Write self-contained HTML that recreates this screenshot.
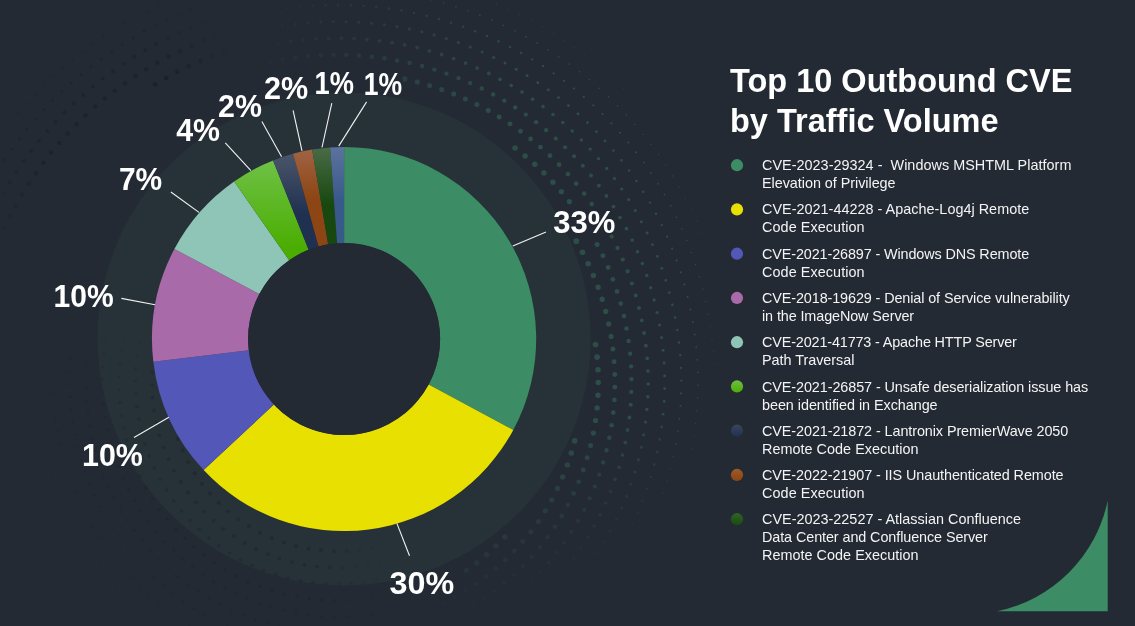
<!DOCTYPE html>
<html lang="en">
<head>
<meta charset="utf-8">
<title>Top 10 Outbound CVE by Traffic Volume</title>
<style>
html,body{margin:0;padding:0;}
body{width:1135px;height:626px;background:#242a33;overflow:hidden;position:relative;
font-family:"Liberation Sans",Arial,Helvetica,sans-serif;color:#fff;}
svg{position:absolute;left:0;top:0;display:block;}
svg,h1,.li{will-change:transform;}
.lbl text{font-family:"Liberation Sans",Arial,Helvetica,sans-serif;font-weight:700;font-size:31.4px;fill:#fff;}
.ld line{stroke:#f2f2f2;stroke-width:1.1;}
h1{position:absolute;left:730px;top:61.5px;margin:0;font-size:32.5px;line-height:39.7px;font-weight:700;
letter-spacing:0.0px;white-space:nowrap;color:#fff;}
.li{position:absolute;left:762.4px;font-size:14.4px;line-height:17.8px;letter-spacing:0.08px;white-space:nowrap;color:#f4f4f4;}
.ln{display:block;}
</style>
</head>
<body>
<svg width="1135" height="626" viewBox="0 0 1135 626">
<defs>
<linearGradient id="gLg" gradientUnits="userSpaceOnUse" x1="0" y1="160" x2="0" y2="250"><stop offset="0" stop-color="#6fc146"/><stop offset="1" stop-color="#4aad00"/></linearGradient>
<linearGradient id="gNv" gradientUnits="userSpaceOnUse" x1="0" y1="152" x2="0" y2="215"><stop offset="0" stop-color="#4b566a"/><stop offset="1" stop-color="#1f3050"/></linearGradient>
<linearGradient id="gBr" gradientUnits="userSpaceOnUse" x1="0" y1="148" x2="0" y2="200"><stop offset="0" stop-color="#a06445"/><stop offset="1" stop-color="#8c4513"/></linearGradient>
<linearGradient id="gDg" gradientUnits="userSpaceOnUse" x1="0" y1="147" x2="0" y2="205"><stop offset="0" stop-color="#4a6b46"/><stop offset="1" stop-color="#17480f"/></linearGradient>
<linearGradient id="gSb" gradientUnits="userSpaceOnUse" x1="0" y1="147" x2="0" y2="200"><stop offset="0" stop-color="#5b739c"/><stop offset="1" stop-color="#3a598b"/></linearGradient>
<linearGradient id="ld5" x1="0" y1="0" x2="0" y2="1"><stop offset="0" stop-color="#6dc043"/><stop offset="1" stop-color="#4cae04"/></linearGradient>
<linearGradient id="ld6" x1="0" y1="0" x2="0" y2="1"><stop offset="0" stop-color="#3a4660"/><stop offset="1" stop-color="#1f3050"/></linearGradient>
<linearGradient id="ld7" x1="0" y1="0" x2="0" y2="1"><stop offset="0" stop-color="#a05a2a"/><stop offset="1" stop-color="#8b4513"/></linearGradient>
<linearGradient id="ld8" x1="0" y1="0" x2="0" y2="1"><stop offset="0" stop-color="#2f6428"/><stop offset="1" stop-color="#1a4a10"/></linearGradient>
</defs>
<rect width="1135" height="626" fill="#242a33"/>
<g id="dots">
<g fill="#3f8a6a"><circle cx="504.8" cy="537.0" r="2.80" fill-opacity="0.15"/>
<circle cx="495.9" cy="546.1" r="2.76" fill-opacity="0.13"/>
<circle cx="486.5" cy="554.8" r="2.73" fill-opacity="0.12"/>
<circle cx="476.6" cy="562.9" r="2.70" fill-opacity="0.11"/>
<circle cx="466.3" cy="570.4" r="2.67" fill-opacity="0.10"/>
<circle cx="574.7" cy="440.8" r="2.86" fill-opacity="0.34"/>
<circle cx="571.3" cy="453.0" r="2.82" fill-opacity="0.31"/>
<circle cx="567.3" cy="465.1" r="2.77" fill-opacity="0.28"/>
<circle cx="562.7" cy="476.9" r="2.73" fill-opacity="0.25"/>
<circle cx="557.5" cy="488.5" r="2.69" fill-opacity="0.22"/>
<circle cx="551.7" cy="499.8" r="2.65" fill-opacity="0.20"/>
<circle cx="545.4" cy="510.8" r="2.61" fill-opacity="0.18"/>
<circle cx="538.4" cy="521.5" r="2.57" fill-opacity="0.16"/>
<circle cx="530.9" cy="531.7" r="2.53" fill-opacity="0.14"/>
<circle cx="522.9" cy="541.6" r="2.50" fill-opacity="0.12"/>
<circle cx="514.4" cy="551.0" r="2.46" fill-opacity="0.11"/>
<circle cx="505.4" cy="560.0" r="2.43" fill-opacity="0.10"/>
<circle cx="496.0" cy="568.5" r="2.40" fill-opacity="0.09"/>
<circle cx="486.1" cy="576.5" r="2.37" fill-opacity="0.08"/>
<circle cx="475.9" cy="584.0" r="2.34" fill-opacity="0.07"/>
<circle cx="465.2" cy="590.9" r="2.31" fill-opacity="0.06"/>
<circle cx="454.2" cy="597.3" r="2.28" fill-opacity="0.04"/>
<circle cx="442.9" cy="603.1" r="2.26" fill-opacity="0.03"/>
<circle cx="598.3" cy="382.5" r="2.74" fill-opacity="0.37"/>
<circle cx="598.0" cy="395.2" r="2.70" fill-opacity="0.37"/>
<circle cx="597.1" cy="407.9" r="2.66" fill-opacity="0.37"/>
<circle cx="595.5" cy="420.5" r="2.61" fill-opacity="0.37"/>
<circle cx="593.4" cy="433.1" r="2.57" fill-opacity="0.35"/>
<circle cx="590.6" cy="445.5" r="2.53" fill-opacity="0.31"/>
<circle cx="587.2" cy="457.8" r="2.49" fill-opacity="0.28"/>
<circle cx="583.3" cy="469.9" r="2.45" fill-opacity="0.25"/>
<circle cx="578.7" cy="481.8" r="2.41" fill-opacity="0.22"/>
<circle cx="573.6" cy="493.4" r="2.37" fill-opacity="0.20"/>
<circle cx="567.9" cy="504.8" r="2.33" fill-opacity="0.17"/>
<circle cx="561.7" cy="515.9" r="2.29" fill-opacity="0.15"/>
<circle cx="554.9" cy="526.7" r="2.25" fill-opacity="0.13"/>
<circle cx="547.6" cy="537.1" r="2.22" fill-opacity="0.12"/>
<circle cx="539.9" cy="547.2" r="2.18" fill-opacity="0.10"/>
<circle cx="531.6" cy="556.9" r="2.15" fill-opacity="0.09"/>
<circle cx="522.9" cy="566.1" r="2.12" fill-opacity="0.07"/>
<circle cx="513.7" cy="575.0" r="2.09" fill-opacity="0.06"/>
<circle cx="504.1" cy="583.3" r="2.06" fill-opacity="0.06"/>
<circle cx="494.2" cy="591.2" r="2.03" fill-opacity="0.05"/>
<circle cx="483.8" cy="598.7" r="2.00" fill-opacity="0.04"/>
<circle cx="473.1" cy="605.5" r="1.98" fill-opacity="0.03"/>
<circle cx="595.5" cy="344.5" r="2.87" fill-opacity="0.37"/>
<circle cx="597.1" cy="357.1" r="2.83" fill-opacity="0.37"/>
<circle cx="598.0" cy="369.8" r="2.79" fill-opacity="0.37"/>
<circle cx="614.9" cy="387.2" r="2.40" fill-opacity="0.37"/>
<circle cx="614.4" cy="399.9" r="2.36" fill-opacity="0.37"/>
<circle cx="613.3" cy="412.6" r="2.32" fill-opacity="0.37"/>
<circle cx="611.6" cy="425.3" r="2.28" fill-opacity="0.35"/>
<circle cx="609.3" cy="437.8" r="2.24" fill-opacity="0.32"/>
<circle cx="606.5" cy="450.3" r="2.20" fill-opacity="0.28"/>
<circle cx="603.1" cy="462.5" r="2.16" fill-opacity="0.25"/>
<circle cx="599.2" cy="474.7" r="2.12" fill-opacity="0.22"/>
<circle cx="594.7" cy="486.6" r="2.08" fill-opacity="0.20"/>
<circle cx="589.6" cy="498.3" r="2.05" fill-opacity="0.17"/>
<circle cx="584.1" cy="509.7" r="2.01" fill-opacity="0.15"/>
<circle cx="578.0" cy="520.9" r="1.97" fill-opacity="0.13"/>
<circle cx="571.4" cy="531.8" r="1.94" fill-opacity="0.11"/>
<circle cx="564.3" cy="542.4" r="1.90" fill-opacity="0.09"/>
<circle cx="556.7" cy="552.7" r="1.87" fill-opacity="0.08"/>
<circle cx="548.7" cy="562.6" r="1.84" fill-opacity="0.07"/>
<circle cx="540.2" cy="572.1" r="1.81" fill-opacity="0.05"/>
<circle cx="531.3" cy="581.2" r="1.78" fill-opacity="0.04"/>
<circle cx="522.0" cy="589.9" r="1.75" fill-opacity="0.04"/>
<circle cx="512.3" cy="598.2" r="1.72" fill-opacity="0.03"/>
<circle cx="576.3" cy="241.2" r="2.86" fill-opacity="0.37"/>
<circle cx="582.5" cy="252.3" r="2.83" fill-opacity="0.37"/>
<circle cx="588.2" cy="263.7" r="2.79" fill-opacity="0.37"/>
<circle cx="593.4" cy="275.4" r="2.75" fill-opacity="0.37"/>
<circle cx="598.1" cy="287.2" r="2.72" fill-opacity="0.37"/>
<circle cx="602.2" cy="299.3" r="2.68" fill-opacity="0.37"/>
<circle cx="605.7" cy="311.5" r="2.64" fill-opacity="0.37"/>
<circle cx="608.7" cy="323.9" r="2.60" fill-opacity="0.37"/>
<circle cx="611.1" cy="336.4" r="2.56" fill-opacity="0.37"/>
<circle cx="612.9" cy="349.1" r="2.52" fill-opacity="0.37"/>
<circle cx="614.1" cy="361.7" r="2.48" fill-opacity="0.37"/>
<circle cx="614.8" cy="374.5" r="2.44" fill-opacity="0.37"/>
<circle cx="631.3" cy="391.9" r="2.06" fill-opacity="0.37"/>
<circle cx="630.7" cy="404.7" r="2.02" fill-opacity="0.37"/>
<circle cx="629.4" cy="417.4" r="1.98" fill-opacity="0.36"/>
<circle cx="627.6" cy="430.0" r="1.94" fill-opacity="0.32"/>
<circle cx="625.3" cy="442.6" r="1.91" fill-opacity="0.29"/>
<circle cx="622.4" cy="455.0" r="1.87" fill-opacity="0.26"/>
<circle cx="619.0" cy="467.3" r="1.83" fill-opacity="0.23"/>
<circle cx="615.1" cy="479.4" r="1.80" fill-opacity="0.20"/>
<circle cx="610.6" cy="491.4" r="1.76" fill-opacity="0.17"/>
<circle cx="605.7" cy="503.1" r="1.72" fill-opacity="0.15"/>
<circle cx="600.2" cy="514.7" r="1.69" fill-opacity="0.13"/>
<circle cx="594.2" cy="525.9" r="1.66" fill-opacity="0.11"/>
<circle cx="587.8" cy="536.9" r="1.62" fill-opacity="0.09"/>
<circle cx="580.8" cy="547.7" r="1.59" fill-opacity="0.07"/>
<circle cx="573.4" cy="558.1" r="1.56" fill-opacity="0.06"/>
<circle cx="565.6" cy="568.1" r="1.53" fill-opacity="0.05"/>
<circle cx="557.4" cy="577.9" r="1.50" fill-opacity="0.04"/>
<circle cx="548.7" cy="587.2" r="1.47" fill-opacity="0.03"/>
<circle cx="515.1" cy="148.0" r="2.77" fill-opacity="0.37"/>
<circle cx="525.1" cy="155.9" r="2.75" fill-opacity="0.37"/>
<circle cx="534.8" cy="164.3" r="2.73" fill-opacity="0.37"/>
<circle cx="544.0" cy="173.0" r="2.70" fill-opacity="0.37"/>
<circle cx="552.9" cy="182.2" r="2.68" fill-opacity="0.37"/>
<circle cx="561.4" cy="191.7" r="2.65" fill-opacity="0.37"/>
<circle cx="569.4" cy="201.6" r="2.62" fill-opacity="0.37"/>
<circle cx="597.1" cy="244.4" r="2.50" fill-opacity="0.37"/>
<circle cx="602.9" cy="255.8" r="2.46" fill-opacity="0.37"/>
<circle cx="608.1" cy="267.5" r="2.43" fill-opacity="0.37"/>
<circle cx="612.8" cy="279.3" r="2.39" fill-opacity="0.37"/>
<circle cx="617.0" cy="291.4" r="2.36" fill-opacity="0.37"/>
<circle cx="620.7" cy="303.6" r="2.32" fill-opacity="0.37"/>
<circle cx="623.9" cy="316.0" r="2.29" fill-opacity="0.37"/>
<circle cx="626.5" cy="328.4" r="2.25" fill-opacity="0.37"/>
<circle cx="628.6" cy="341.0" r="2.21" fill-opacity="0.37"/>
<circle cx="630.1" cy="353.7" r="2.17" fill-opacity="0.37"/>
<circle cx="631.1" cy="366.4" r="2.13" fill-opacity="0.37"/>
<circle cx="631.5" cy="379.2" r="2.10" fill-opacity="0.37"/>
<circle cx="647.8" cy="396.7" r="1.72" fill-opacity="0.37"/>
<circle cx="646.9" cy="409.4" r="1.68" fill-opacity="0.37"/>
<circle cx="645.6" cy="422.1" r="1.65" fill-opacity="0.33"/>
<circle cx="643.7" cy="434.8" r="1.61" fill-opacity="0.29"/>
<circle cx="641.3" cy="447.3" r="1.57" fill-opacity="0.26"/>
<circle cx="638.4" cy="459.7" r="1.54" fill-opacity="0.23"/>
<circle cx="634.9" cy="472.1" r="1.50" fill-opacity="0.20"/>
<circle cx="631.0" cy="484.2" r="1.47" fill-opacity="0.17"/>
<circle cx="626.6" cy="496.2" r="1.43" fill-opacity="0.15"/>
<circle cx="621.7" cy="508.0" r="1.40" fill-opacity="0.13"/>
<circle cx="616.3" cy="519.6" r="1.37" fill-opacity="0.11"/>
<circle cx="610.4" cy="530.9" r="1.33" fill-opacity="0.09"/>
<circle cx="604.1" cy="542.0" r="1.30" fill-opacity="0.07"/>
<circle cx="597.3" cy="552.8" r="1.27" fill-opacity="0.06"/>
<circle cx="590.1" cy="563.4" r="1.24" fill-opacity="0.04"/>
<circle cx="582.5" cy="573.6" r="1.21" fill-opacity="0.03"/>
<circle cx="404.9" cy="78.9" r="2.56" fill-opacity="0.23"/>
<circle cx="417.3" cy="82.0" r="2.55" fill-opacity="0.25"/>
<circle cx="429.6" cy="85.5" r="2.55" fill-opacity="0.27"/>
<circle cx="441.7" cy="89.6" r="2.54" fill-opacity="0.29"/>
<circle cx="453.7" cy="94.1" r="2.53" fill-opacity="0.31"/>
<circle cx="465.4" cy="99.1" r="2.52" fill-opacity="0.32"/>
<circle cx="476.9" cy="104.6" r="2.51" fill-opacity="0.34"/>
<circle cx="488.2" cy="110.6" r="2.50" fill-opacity="0.36"/>
<circle cx="499.2" cy="117.1" r="2.48" fill-opacity="0.37"/>
<circle cx="510.0" cy="123.9" r="2.47" fill-opacity="0.37"/>
<circle cx="520.5" cy="131.3" r="2.45" fill-opacity="0.37"/>
<circle cx="530.6" cy="139.0" r="2.43" fill-opacity="0.37"/>
<circle cx="540.5" cy="147.2" r="2.41" fill-opacity="0.37"/>
<circle cx="550.0" cy="155.7" r="2.39" fill-opacity="0.37"/>
<circle cx="559.1" cy="164.7" r="2.36" fill-opacity="0.37"/>
<circle cx="567.9" cy="174.0" r="2.34" fill-opacity="0.37"/>
<circle cx="576.2" cy="183.6" r="2.31" fill-opacity="0.37"/>
<circle cx="584.2" cy="193.6" r="2.29" fill-opacity="0.37"/>
<circle cx="591.7" cy="203.9" r="2.26" fill-opacity="0.37"/>
<circle cx="611.7" cy="236.6" r="2.17" fill-opacity="0.37"/>
<circle cx="617.5" cy="248.0" r="2.14" fill-opacity="0.37"/>
<circle cx="622.8" cy="259.6" r="2.10" fill-opacity="0.37"/>
<circle cx="627.6" cy="271.4" r="2.07" fill-opacity="0.37"/>
<circle cx="631.9" cy="283.5" r="2.04" fill-opacity="0.37"/>
<circle cx="635.7" cy="295.6" r="2.00" fill-opacity="0.37"/>
<circle cx="639.0" cy="308.0" r="1.97" fill-opacity="0.37"/>
<circle cx="641.8" cy="320.4" r="1.93" fill-opacity="0.37"/>
<circle cx="644.1" cy="333.0" r="1.90" fill-opacity="0.37"/>
<circle cx="645.9" cy="345.7" r="1.86" fill-opacity="0.37"/>
<circle cx="647.2" cy="358.4" r="1.83" fill-opacity="0.37"/>
<circle cx="647.9" cy="371.1" r="1.79" fill-opacity="0.37"/>
<circle cx="648.1" cy="383.9" r="1.75" fill-opacity="0.37"/>
<circle cx="664.2" cy="401.4" r="1.38" fill-opacity="0.37"/>
<circle cx="663.2" cy="414.2" r="1.34" fill-opacity="0.33"/>
<circle cx="661.7" cy="426.9" r="1.31" fill-opacity="0.30"/>
<circle cx="659.7" cy="439.5" r="1.28" fill-opacity="0.26"/>
<circle cx="657.2" cy="452.0" r="1.24" fill-opacity="0.23"/>
<circle cx="654.3" cy="464.5" r="1.21" fill-opacity="0.20"/>
<circle cx="650.8" cy="476.8" r="1.17" fill-opacity="0.18"/>
<circle cx="646.9" cy="489.0" r="1.14" fill-opacity="0.15"/>
<circle cx="642.5" cy="501.0" r="1.11" fill-opacity="0.13"/>
<circle cx="637.7" cy="512.8" r="1.08" fill-opacity="0.10"/>
<circle cx="632.4" cy="524.5" r="1.04" fill-opacity="0.09"/>
<circle cx="626.6" cy="535.9" r="1.01" fill-opacity="0.07"/>
<circle cx="620.4" cy="547.1" r="0.98" fill-opacity="0.05"/>
<circle cx="613.8" cy="558.0" r="0.95" fill-opacity="0.04"/>
<circle cx="606.7" cy="568.6" r="0.92" fill-opacity="0.03"/>
<circle cx="270.1" cy="61.7" r="2.16" fill-opacity="0.03"/>
<circle cx="282.6" cy="59.3" r="2.17" fill-opacity="0.05"/>
<circle cx="295.3" cy="57.5" r="2.19" fill-opacity="0.07"/>
<circle cx="308.0" cy="56.1" r="2.20" fill-opacity="0.09"/>
<circle cx="320.8" cy="55.2" r="2.20" fill-opacity="0.11"/>
<circle cx="333.5" cy="54.8" r="2.21" fill-opacity="0.12"/>
<circle cx="346.3" cy="54.9" r="2.22" fill-opacity="0.14"/>
<circle cx="359.1" cy="55.5" r="2.22" fill-opacity="0.16"/>
<circle cx="371.8" cy="56.7" r="2.23" fill-opacity="0.18"/>
<circle cx="384.5" cy="58.3" r="2.23" fill-opacity="0.20"/>
<circle cx="397.1" cy="60.4" r="2.23" fill-opacity="0.21"/>
<circle cx="409.7" cy="63.0" r="2.23" fill-opacity="0.23"/>
<circle cx="422.1" cy="66.0" r="2.22" fill-opacity="0.25"/>
<circle cx="434.4" cy="69.6" r="2.22" fill-opacity="0.27"/>
<circle cx="446.5" cy="73.6" r="2.21" fill-opacity="0.29"/>
<circle cx="458.5" cy="78.1" r="2.20" fill-opacity="0.30"/>
<circle cx="470.2" cy="83.1" r="2.19" fill-opacity="0.32"/>
<circle cx="481.8" cy="88.5" r="2.18" fill-opacity="0.34"/>
<circle cx="493.2" cy="94.4" r="2.17" fill-opacity="0.36"/>
<circle cx="504.3" cy="100.7" r="2.16" fill-opacity="0.37"/>
<circle cx="515.2" cy="107.5" r="2.14" fill-opacity="0.37"/>
<circle cx="525.8" cy="114.6" r="2.13" fill-opacity="0.37"/>
<circle cx="536.1" cy="122.2" r="2.11" fill-opacity="0.37"/>
<circle cx="546.1" cy="130.2" r="2.09" fill-opacity="0.37"/>
<circle cx="555.8" cy="138.5" r="2.07" fill-opacity="0.37"/>
<circle cx="565.1" cy="147.2" r="2.05" fill-opacity="0.37"/>
<circle cx="574.1" cy="156.3" r="2.03" fill-opacity="0.37"/>
<circle cx="582.8" cy="165.7" r="2.00" fill-opacity="0.37"/>
<circle cx="591.0" cy="175.5" r="1.98" fill-opacity="0.37"/>
<circle cx="598.9" cy="185.6" r="1.95" fill-opacity="0.37"/>
<circle cx="606.4" cy="195.9" r="1.92" fill-opacity="0.37"/>
<circle cx="613.5" cy="206.6" r="1.90" fill-opacity="0.37"/>
<circle cx="620.1" cy="217.5" r="1.87" fill-opacity="0.37"/>
<circle cx="626.4" cy="228.7" r="1.84" fill-opacity="0.37"/>
<circle cx="632.1" cy="240.1" r="1.81" fill-opacity="0.37"/>
<circle cx="637.5" cy="251.7" r="1.78" fill-opacity="0.37"/>
<circle cx="642.3" cy="263.5" r="1.75" fill-opacity="0.37"/>
<circle cx="646.8" cy="275.5" r="1.72" fill-opacity="0.37"/>
<circle cx="650.7" cy="287.7" r="1.68" fill-opacity="0.37"/>
<circle cx="654.1" cy="300.0" r="1.65" fill-opacity="0.37"/>
<circle cx="657.1" cy="312.5" r="1.62" fill-opacity="0.37"/>
<circle cx="659.6" cy="325.0" r="1.58" fill-opacity="0.37"/>
<circle cx="661.6" cy="337.6" r="1.55" fill-opacity="0.37"/>
<circle cx="663.1" cy="350.3" r="1.52" fill-opacity="0.37"/>
<circle cx="664.1" cy="363.1" r="1.48" fill-opacity="0.37"/>
<circle cx="664.6" cy="375.9" r="1.45" fill-opacity="0.37"/>
<circle cx="664.6" cy="388.6" r="1.41" fill-opacity="0.37"/>
<circle cx="680.5" cy="406.0" r="1.04" fill-opacity="0.34"/>
<circle cx="679.4" cy="418.7" r="1.01" fill-opacity="0.31"/>
<circle cx="677.8" cy="431.3" r="0.97" fill-opacity="0.27"/>
<circle cx="675.8" cy="443.9" r="0.94" fill-opacity="0.24"/>
<circle cx="673.3" cy="456.4" r="0.91" fill-opacity="0.21"/>
<circle cx="670.3" cy="468.7" r="0.88" fill-opacity="0.18"/>
<circle cx="666.9" cy="481.0" r="0.85" fill-opacity="0.15"/>
<circle cx="663.0" cy="493.1" r="0.82" fill-opacity="0.13"/>
<circle cx="658.7" cy="505.1" r="0.78" fill-opacity="0.11"/>
<circle cx="654.0" cy="516.9" r="0.75" fill-opacity="0.09"/>
<circle cx="648.8" cy="528.5" r="0.72" fill-opacity="0.07"/>
<circle cx="643.2" cy="539.9" r="0.69" fill-opacity="0.05"/>
<circle cx="637.2" cy="551.1" r="0.66" fill-opacity="0.04"/>
<circle cx="630.7" cy="562.1" r="0.64" fill-opacity="0.03"/>
<circle cx="265.6" cy="45.7" r="1.83" fill-opacity="0.03"/>
<circle cx="278.1" cy="43.3" r="1.84" fill-opacity="0.05"/>
<circle cx="290.7" cy="41.3" r="1.85" fill-opacity="0.07"/>
<circle cx="303.3" cy="39.9" r="1.86" fill-opacity="0.08"/>
<circle cx="316.0" cy="38.8" r="1.87" fill-opacity="0.10"/>
<circle cx="328.7" cy="38.3" r="1.88" fill-opacity="0.12"/>
<circle cx="341.5" cy="38.2" r="1.88" fill-opacity="0.13"/>
<circle cx="354.2" cy="38.6" r="1.89" fill-opacity="0.15"/>
<circle cx="366.9" cy="39.5" r="1.89" fill-opacity="0.17"/>
<circle cx="379.5" cy="40.8" r="1.89" fill-opacity="0.19"/>
<circle cx="392.1" cy="42.6" r="1.90" fill-opacity="0.20"/>
<circle cx="404.6" cy="44.9" r="1.89" fill-opacity="0.22"/>
<circle cx="417.1" cy="47.6" r="1.89" fill-opacity="0.24"/>
<circle cx="429.4" cy="50.8" r="1.89" fill-opacity="0.25"/>
<circle cx="441.6" cy="54.5" r="1.88" fill-opacity="0.27"/>
<circle cx="453.6" cy="58.6" r="1.88" fill-opacity="0.29"/>
<circle cx="465.5" cy="63.1" r="1.87" fill-opacity="0.30"/>
<circle cx="477.2" cy="68.1" r="1.86" fill-opacity="0.32"/>
<circle cx="488.8" cy="73.4" r="1.85" fill-opacity="0.34"/>
<circle cx="500.1" cy="79.3" r="1.84" fill-opacity="0.36"/>
<circle cx="511.2" cy="85.5" r="1.83" fill-opacity="0.37"/>
<circle cx="522.0" cy="92.1" r="1.81" fill-opacity="0.37"/>
<circle cx="532.6" cy="99.2" r="1.80" fill-opacity="0.37"/>
<circle cx="543.0" cy="106.6" r="1.78" fill-opacity="0.37"/>
<circle cx="553.0" cy="114.4" r="1.77" fill-opacity="0.37"/>
<circle cx="562.8" cy="122.6" r="1.75" fill-opacity="0.37"/>
<circle cx="572.2" cy="131.1" r="1.73" fill-opacity="0.37"/>
<circle cx="581.4" cy="139.9" r="1.71" fill-opacity="0.37"/>
<circle cx="590.2" cy="149.1" r="1.68" fill-opacity="0.37"/>
<circle cx="598.6" cy="158.7" r="1.66" fill-opacity="0.37"/>
<circle cx="606.7" cy="168.5" r="1.64" fill-opacity="0.37"/>
<circle cx="614.4" cy="178.6" r="1.61" fill-opacity="0.37"/>
<circle cx="621.8" cy="189.0" r="1.59" fill-opacity="0.37"/>
<circle cx="628.7" cy="199.6" r="1.56" fill-opacity="0.37"/>
<circle cx="635.3" cy="210.5" r="1.53" fill-opacity="0.37"/>
<circle cx="641.4" cy="221.7" r="1.51" fill-opacity="0.37"/>
<circle cx="647.2" cy="233.0" r="1.48" fill-opacity="0.37"/>
<circle cx="652.5" cy="244.6" r="1.45" fill-opacity="0.37"/>
<circle cx="657.4" cy="256.3" r="1.42" fill-opacity="0.37"/>
<circle cx="661.8" cy="268.3" r="1.39" fill-opacity="0.37"/>
<circle cx="665.8" cy="280.4" r="1.36" fill-opacity="0.37"/>
<circle cx="669.3" cy="292.6" r="1.33" fill-opacity="0.37"/>
<circle cx="672.4" cy="304.9" r="1.30" fill-opacity="0.37"/>
<circle cx="675.1" cy="317.4" r="1.27" fill-opacity="0.37"/>
<circle cx="677.3" cy="329.9" r="1.23" fill-opacity="0.37"/>
<circle cx="679.0" cy="342.5" r="1.20" fill-opacity="0.37"/>
<circle cx="680.2" cy="355.2" r="1.17" fill-opacity="0.37"/>
<circle cx="681.0" cy="367.9" r="1.14" fill-opacity="0.37"/>
<circle cx="681.3" cy="380.6" r="1.10" fill-opacity="0.37"/>
<circle cx="681.1" cy="393.3" r="1.07" fill-opacity="0.37"/>
<circle cx="696.8" cy="410.8" r="0.70" fill-opacity="0.31"/>
<circle cx="695.6" cy="423.4" r="0.67" fill-opacity="0.28"/>
<circle cx="693.9" cy="436.1" r="0.64" fill-opacity="0.24"/>
<circle cx="691.8" cy="448.6" r="0.61" fill-opacity="0.21"/>
<circle cx="689.2" cy="461.1" r="0.58" fill-opacity="0.18"/>
<circle cx="686.2" cy="473.5" r="0.55" fill-opacity="0.16"/>
<circle cx="682.8" cy="485.8" r="0.52" fill-opacity="0.13"/>
<circle cx="679.0" cy="497.9" r="0.49" fill-opacity="0.11"/>
<circle cx="674.7" cy="509.9" r="0.46" fill-opacity="0.09"/>
<circle cx="670.0" cy="521.7" r="0.43" fill-opacity="0.07"/>
<circle cx="664.8" cy="533.4" r="0.40" fill-opacity="0.05"/>
<circle cx="659.3" cy="544.9" r="0.37" fill-opacity="0.04"/>
<circle cx="257.7" cy="30.4" r="1.49" fill-opacity="0.03"/>
<circle cx="270.1" cy="27.9" r="1.50" fill-opacity="0.04"/>
<circle cx="282.7" cy="25.7" r="1.51" fill-opacity="0.06"/>
<circle cx="295.3" cy="24.0" r="1.53" fill-opacity="0.08"/>
<circle cx="308.0" cy="22.8" r="1.53" fill-opacity="0.09"/>
<circle cx="320.7" cy="22.0" r="1.54" fill-opacity="0.11"/>
<circle cx="333.4" cy="21.6" r="1.55" fill-opacity="0.12"/>
<circle cx="346.2" cy="21.7" r="1.55" fill-opacity="0.14"/>
<circle cx="358.9" cy="22.3" r="1.56" fill-opacity="0.16"/>
<circle cx="371.6" cy="23.3" r="1.56" fill-opacity="0.17"/>
<circle cx="384.3" cy="24.7" r="1.56" fill-opacity="0.19"/>
<circle cx="396.9" cy="26.6" r="1.56" fill-opacity="0.21"/>
<circle cx="409.4" cy="28.9" r="1.56" fill-opacity="0.22"/>
<circle cx="421.8" cy="31.7" r="1.56" fill-opacity="0.24"/>
<circle cx="434.1" cy="34.9" r="1.56" fill-opacity="0.25"/>
<circle cx="446.3" cy="38.6" r="1.55" fill-opacity="0.27"/>
<circle cx="458.4" cy="42.6" r="1.55" fill-opacity="0.29"/>
<circle cx="470.3" cy="47.1" r="1.54" fill-opacity="0.30"/>
<circle cx="482.1" cy="52.0" r="1.53" fill-opacity="0.32"/>
<circle cx="493.7" cy="57.4" r="1.52" fill-opacity="0.34"/>
<circle cx="505.0" cy="63.1" r="1.51" fill-opacity="0.35"/>
<circle cx="516.2" cy="69.2" r="1.50" fill-opacity="0.37"/>
<circle cx="527.1" cy="75.8" r="1.49" fill-opacity="0.37"/>
<circle cx="537.8" cy="82.7" r="1.47" fill-opacity="0.37"/>
<circle cx="548.3" cy="89.9" r="1.46" fill-opacity="0.37"/>
<circle cx="558.5" cy="97.6" r="1.44" fill-opacity="0.37"/>
<circle cx="568.4" cy="105.6" r="1.43" fill-opacity="0.37"/>
<circle cx="578.0" cy="113.9" r="1.41" fill-opacity="0.37"/>
<circle cx="587.4" cy="122.6" r="1.39" fill-opacity="0.37"/>
<circle cx="596.4" cy="131.6" r="1.37" fill-opacity="0.37"/>
<circle cx="605.1" cy="140.9" r="1.35" fill-opacity="0.37"/>
<circle cx="613.4" cy="150.5" r="1.32" fill-opacity="0.37"/>
<circle cx="621.5" cy="160.4" r="1.30" fill-opacity="0.37"/>
<circle cx="629.1" cy="170.6" r="1.28" fill-opacity="0.37"/>
<circle cx="636.4" cy="181.0" r="1.25" fill-opacity="0.37"/>
<circle cx="643.3" cy="191.7" r="1.23" fill-opacity="0.37"/>
<circle cx="649.9" cy="202.6" r="1.20" fill-opacity="0.37"/>
<circle cx="656.0" cy="213.8" r="1.18" fill-opacity="0.37"/>
<circle cx="661.8" cy="225.2" r="1.15" fill-opacity="0.37"/>
<circle cx="667.1" cy="236.7" r="1.12" fill-opacity="0.37"/>
<circle cx="672.1" cy="248.5" r="1.09" fill-opacity="0.37"/>
<circle cx="676.6" cy="260.4" r="1.07" fill-opacity="0.37"/>
<circle cx="680.7" cy="272.4" r="1.04" fill-opacity="0.37"/>
<circle cx="684.4" cy="284.6" r="1.01" fill-opacity="0.37"/>
<circle cx="687.6" cy="296.9" r="0.98" fill-opacity="0.37"/>
<circle cx="690.4" cy="309.4" r="0.95" fill-opacity="0.37"/>
<circle cx="692.8" cy="321.9" r="0.92" fill-opacity="0.37"/>
<circle cx="694.7" cy="334.5" r="0.89" fill-opacity="0.37"/>
<circle cx="696.2" cy="347.1" r="0.86" fill-opacity="0.37"/>
<circle cx="697.2" cy="359.8" r="0.83" fill-opacity="0.37"/>
<circle cx="697.8" cy="372.6" r="0.79" fill-opacity="0.37"/>
<circle cx="697.9" cy="385.3" r="0.76" fill-opacity="0.37"/>
<circle cx="697.6" cy="398.0" r="0.73" fill-opacity="0.35"/>
<circle cx="713.1" cy="415.5" r="0.36" fill-opacity="0.28"/>
<circle cx="711.7" cy="428.2" r="0.33" fill-opacity="0.25"/>
<circle cx="710.0" cy="440.8" r="0.30" fill-opacity="0.22"/>
<circle cx="262.1" cy="12.5" r="1.17" fill-opacity="0.04"/>
<circle cx="274.7" cy="10.2" r="1.18" fill-opacity="0.05"/>
<circle cx="287.3" cy="8.3" r="1.19" fill-opacity="0.07"/>
<circle cx="300.0" cy="6.8" r="1.20" fill-opacity="0.08"/>
<circle cx="312.7" cy="5.8" r="1.21" fill-opacity="0.10"/>
<circle cx="325.4" cy="5.2" r="1.21" fill-opacity="0.11"/>
<circle cx="338.1" cy="5.0" r="1.22" fill-opacity="0.13"/>
<circle cx="350.9" cy="5.3" r="1.22" fill-opacity="0.15"/>
<circle cx="363.6" cy="5.9" r="1.23" fill-opacity="0.16"/>
<circle cx="376.3" cy="7.1" r="1.23" fill-opacity="0.18"/>
<circle cx="389.0" cy="8.6" r="1.23" fill-opacity="0.19"/>
<circle cx="401.6" cy="10.6" r="1.23" fill-opacity="0.21"/>
<circle cx="414.1" cy="13.0" r="1.23" fill-opacity="0.22"/>
<circle cx="426.6" cy="15.8" r="1.23" fill-opacity="0.24"/>
<circle cx="438.9" cy="19.0" r="1.23" fill-opacity="0.25"/>
<circle cx="451.1" cy="22.7" r="1.22" fill-opacity="0.27"/>
<circle cx="463.2" cy="26.7" r="1.22" fill-opacity="0.29"/>
<circle cx="475.1" cy="31.2" r="1.21" fill-opacity="0.30"/>
<circle cx="486.9" cy="36.0" r="1.20" fill-opacity="0.32"/>
<circle cx="498.5" cy="41.3" r="1.19" fill-opacity="0.33"/>
<circle cx="510.0" cy="47.0" r="1.18" fill-opacity="0.35"/>
<circle cx="521.2" cy="53.0" r="1.17" fill-opacity="0.36"/>
<circle cx="532.2" cy="59.4" r="1.16" fill-opacity="0.37"/>
<circle cx="543.0" cy="66.2" r="1.15" fill-opacity="0.37"/>
<circle cx="553.6" cy="73.3" r="1.13" fill-opacity="0.37"/>
<circle cx="563.9" cy="80.8" r="1.12" fill-opacity="0.37"/>
<circle cx="574.0" cy="88.6" r="1.10" fill-opacity="0.37"/>
<circle cx="583.8" cy="96.8" r="1.09" fill-opacity="0.37"/>
<circle cx="593.3" cy="105.3" r="1.07" fill-opacity="0.37"/>
<circle cx="602.5" cy="114.1" r="1.05" fill-opacity="0.37"/>
<circle cx="611.4" cy="123.2" r="1.03" fill-opacity="0.37"/>
<circle cx="620.0" cy="132.7" r="1.01" fill-opacity="0.37"/>
<circle cx="628.3" cy="142.4" r="0.99" fill-opacity="0.37"/>
<circle cx="636.2" cy="152.3" r="0.97" fill-opacity="0.37"/>
<circle cx="643.8" cy="162.6" r="0.94" fill-opacity="0.37"/>
<circle cx="651.1" cy="173.1" r="0.92" fill-opacity="0.37"/>
<circle cx="658.0" cy="183.8" r="0.90" fill-opacity="0.37"/>
<circle cx="664.5" cy="194.7" r="0.87" fill-opacity="0.37"/>
<circle cx="670.7" cy="205.9" r="0.85" fill-opacity="0.37"/>
<circle cx="676.4" cy="217.3" r="0.82" fill-opacity="0.37"/>
<circle cx="681.8" cy="228.8" r="0.80" fill-opacity="0.37"/>
<circle cx="686.8" cy="240.6" r="0.77" fill-opacity="0.37"/>
<circle cx="691.4" cy="252.5" r="0.74" fill-opacity="0.37"/>
<circle cx="695.6" cy="264.5" r="0.71" fill-opacity="0.37"/>
<circle cx="699.4" cy="276.7" r="0.69" fill-opacity="0.37"/>
<circle cx="702.7" cy="289.0" r="0.66" fill-opacity="0.37"/>
<circle cx="705.7" cy="301.4" r="0.63" fill-opacity="0.37"/>
<circle cx="708.2" cy="313.9" r="0.60" fill-opacity="0.37"/>
<circle cx="710.3" cy="326.5" r="0.57" fill-opacity="0.37"/>
<circle cx="712.0" cy="339.1" r="0.54" fill-opacity="0.37"/>
<circle cx="713.2" cy="351.8" r="0.51" fill-opacity="0.37"/>
<circle cx="714.1" cy="364.5" r="0.48" fill-opacity="0.37"/>
<circle cx="714.5" cy="377.3" r="0.45" fill-opacity="0.37"/>
<circle cx="714.4" cy="390.0" r="0.42" fill-opacity="0.36"/>
<circle cx="714.0" cy="402.8" r="0.39" fill-opacity="0.32"/>
<circle cx="254.1" cy="-2.8" r="0.83" fill-opacity="0.03"/>
<circle cx="418.9" cy="-3.0" r="0.90" fill-opacity="0.23"/>
<circle cx="431.3" cy="-0.2" r="0.90" fill-opacity="0.24"/>
<circle cx="443.6" cy="3.1" r="0.89" fill-opacity="0.25"/>
<circle cx="455.9" cy="6.8" r="0.89" fill-opacity="0.27"/>
<circle cx="468.0" cy="10.8" r="0.88" fill-opacity="0.28"/>
<circle cx="479.9" cy="15.2" r="0.88" fill-opacity="0.30"/>
<circle cx="491.8" cy="20.1" r="0.87" fill-opacity="0.31"/>
<circle cx="503.4" cy="25.3" r="0.86" fill-opacity="0.33"/>
<circle cx="514.9" cy="30.8" r="0.85" fill-opacity="0.34"/>
<circle cx="526.2" cy="36.8" r="0.84" fill-opacity="0.36"/>
<circle cx="537.3" cy="43.1" r="0.83" fill-opacity="0.37"/>
<circle cx="548.2" cy="49.8" r="0.82" fill-opacity="0.37"/>
<circle cx="558.8" cy="56.8" r="0.81" fill-opacity="0.37"/>
<circle cx="569.3" cy="64.1" r="0.79" fill-opacity="0.37"/>
<circle cx="579.5" cy="71.8" r="0.78" fill-opacity="0.37"/>
<circle cx="589.4" cy="79.8" r="0.76" fill-opacity="0.37"/>
<circle cx="599.1" cy="88.2" r="0.75" fill-opacity="0.37"/>
<circle cx="608.5" cy="96.8" r="0.73" fill-opacity="0.37"/>
<circle cx="617.6" cy="105.7" r="0.71" fill-opacity="0.37"/>
<circle cx="626.4" cy="115.0" r="0.69" fill-opacity="0.37"/>
<circle cx="634.9" cy="124.5" r="0.67" fill-opacity="0.37"/>
<circle cx="643.1" cy="134.3" r="0.65" fill-opacity="0.37"/>
<circle cx="651.0" cy="144.3" r="0.63" fill-opacity="0.37"/>
<circle cx="658.5" cy="154.6" r="0.61" fill-opacity="0.37"/>
<circle cx="665.7" cy="165.1" r="0.59" fill-opacity="0.37"/>
<circle cx="672.6" cy="175.9" r="0.56" fill-opacity="0.37"/>
<circle cx="679.1" cy="186.9" r="0.54" fill-opacity="0.37"/>
<circle cx="685.3" cy="198.0" r="0.52" fill-opacity="0.37"/>
<circle cx="691.1" cy="209.4" r="0.49" fill-opacity="0.37"/>
<circle cx="696.5" cy="221.0" r="0.47" fill-opacity="0.37"/>
<circle cx="701.5" cy="232.7" r="0.44" fill-opacity="0.37"/>
<circle cx="706.2" cy="244.6" r="0.42" fill-opacity="0.37"/>
<circle cx="710.4" cy="256.6" r="0.39" fill-opacity="0.37"/>
<circle cx="714.3" cy="268.8" r="0.36" fill-opacity="0.37"/>
<circle cx="717.8" cy="281.0" r="0.34" fill-opacity="0.37"/>
<circle cx="720.9" cy="293.4" r="0.31" fill-opacity="0.37"/>
<circle cx="484.7" cy="-0.7" r="0.55" fill-opacity="0.30"/>
<circle cx="496.6" cy="4.1" r="0.54" fill-opacity="0.31"/>
<circle cx="508.3" cy="9.2" r="0.53" fill-opacity="0.33"/>
<circle cx="519.8" cy="14.7" r="0.52" fill-opacity="0.34"/>
<circle cx="531.2" cy="20.6" r="0.51" fill-opacity="0.36"/>
<circle cx="542.3" cy="26.8" r="0.50" fill-opacity="0.37"/>
<circle cx="553.3" cy="33.4" r="0.49" fill-opacity="0.37"/>
<circle cx="564.0" cy="40.3" r="0.48" fill-opacity="0.37"/>
<circle cx="574.6" cy="47.5" r="0.47" fill-opacity="0.37"/>
<circle cx="584.9" cy="55.0" r="0.45" fill-opacity="0.37"/>
<circle cx="594.9" cy="62.9" r="0.44" fill-opacity="0.37"/>
<circle cx="604.7" cy="71.1" r="0.42" fill-opacity="0.37"/>
<circle cx="614.3" cy="79.6" r="0.41" fill-opacity="0.37"/>
<circle cx="623.6" cy="88.3" r="0.39" fill-opacity="0.37"/>
<circle cx="632.6" cy="97.4" r="0.37" fill-opacity="0.37"/>
<circle cx="641.3" cy="106.7" r="0.36" fill-opacity="0.37"/>
<circle cx="649.8" cy="116.3" r="0.34" fill-opacity="0.37"/>
<circle cx="657.9" cy="126.2" r="0.32" fill-opacity="0.37"/></g>
</g>
<circle cx="344.1" cy="339.0" r="246.5" fill="#263238"/>
<g id="ddots">
<g fill="#1b1f29"><circle cx="155.1" cy="84.4" r="2.30" fill-opacity="0.85"/>
<circle cx="166.1" cy="78.0" r="2.30" fill-opacity="0.85"/>
<circle cx="177.3" cy="71.9" r="2.30" fill-opacity="0.78"/>
<circle cx="188.8" cy="66.3" r="2.30" fill-opacity="0.60"/>
<circle cx="200.4" cy="61.1" r="2.30" fill-opacity="0.43"/>
<circle cx="212.3" cy="56.3" r="2.30" fill-opacity="0.25"/>
<circle cx="224.3" cy="52.0" r="2.30" fill-opacity="0.07"/>
<circle cx="-1.0" cy="239.9" r="2.30" fill-opacity="0.04"/>
<circle cx="4.2" cy="228.3" r="2.30" fill-opacity="0.14"/>
<circle cx="9.7" cy="216.8" r="2.30" fill-opacity="0.24"/>
<circle cx="15.7" cy="205.6" r="2.30" fill-opacity="0.34"/>
<circle cx="22.0" cy="194.5" r="2.30" fill-opacity="0.44"/>
<circle cx="28.7" cy="183.7" r="2.30" fill-opacity="0.55"/>
<circle cx="35.8" cy="173.1" r="2.30" fill-opacity="0.65"/>
<circle cx="43.3" cy="162.8" r="2.30" fill-opacity="0.71"/>
<circle cx="51.1" cy="152.7" r="2.30" fill-opacity="0.71"/>
<circle cx="59.2" cy="143.0" r="2.30" fill-opacity="0.71"/>
<circle cx="67.7" cy="133.5" r="2.30" fill-opacity="0.71"/>
<circle cx="76.5" cy="124.3" r="2.30" fill-opacity="0.71"/>
<circle cx="85.6" cy="115.4" r="2.30" fill-opacity="0.71"/>
<circle cx="95.1" cy="106.8" r="2.30" fill-opacity="0.71"/>
<circle cx="104.8" cy="98.6" r="2.30" fill-opacity="0.71"/>
<circle cx="114.8" cy="90.7" r="2.30" fill-opacity="0.71"/>
<circle cx="125.0" cy="83.2" r="2.30" fill-opacity="0.71"/>
<circle cx="135.5" cy="76.0" r="2.30" fill-opacity="0.71"/>
<circle cx="146.3" cy="69.2" r="2.30" fill-opacity="0.71"/>
<circle cx="157.3" cy="62.7" r="2.30" fill-opacity="0.71"/>
<circle cx="168.5" cy="56.7" r="2.30" fill-opacity="0.66"/>
<circle cx="179.9" cy="51.0" r="2.30" fill-opacity="0.52"/>
<circle cx="191.5" cy="45.8" r="2.30" fill-opacity="0.38"/>
<circle cx="203.3" cy="40.9" r="2.30" fill-opacity="0.24"/>
<circle cx="215.2" cy="36.5" r="2.30" fill-opacity="0.10"/>
<circle cx="-2.9" cy="204.7" r="1.90" fill-opacity="0.23"/>
<circle cx="3.2" cy="193.5" r="1.90" fill-opacity="0.30"/>
<circle cx="9.7" cy="182.5" r="1.90" fill-opacity="0.38"/>
<circle cx="16.5" cy="171.7" r="1.90" fill-opacity="0.45"/>
<circle cx="23.7" cy="161.2" r="1.90" fill-opacity="0.53"/>
<circle cx="31.2" cy="150.9" r="1.90" fill-opacity="0.56"/>
<circle cx="39.1" cy="140.8" r="1.90" fill-opacity="0.56"/>
<circle cx="47.3" cy="131.1" r="1.90" fill-opacity="0.56"/>
<circle cx="55.8" cy="121.6" r="1.90" fill-opacity="0.56"/>
<circle cx="64.6" cy="112.4" r="1.90" fill-opacity="0.56"/>
<circle cx="73.8" cy="103.5" r="1.90" fill-opacity="0.56"/>
<circle cx="83.2" cy="94.9" r="1.90" fill-opacity="0.56"/>
<circle cx="92.9" cy="86.6" r="1.90" fill-opacity="0.56"/>
<circle cx="102.8" cy="78.7" r="1.90" fill-opacity="0.56"/>
<circle cx="113.1" cy="71.0" r="1.90" fill-opacity="0.56"/>
<circle cx="123.6" cy="63.8" r="1.90" fill-opacity="0.56"/>
<circle cx="134.3" cy="56.9" r="1.90" fill-opacity="0.56"/>
<circle cx="145.2" cy="50.3" r="1.90" fill-opacity="0.56"/>
<circle cx="156.3" cy="44.1" r="1.90" fill-opacity="0.56"/>
<circle cx="167.7" cy="38.3" r="1.90" fill-opacity="0.46"/>
<circle cx="179.2" cy="32.8" r="1.90" fill-opacity="0.35"/>
<circle cx="190.9" cy="27.8" r="1.90" fill-opacity="0.25"/>
<circle cx="202.8" cy="23.1" r="1.90" fill-opacity="0.14"/>
<circle cx="-2.6" cy="170.4" r="1.50" fill-opacity="0.30"/>
<circle cx="4.3" cy="159.7" r="1.50" fill-opacity="0.35"/>
<circle cx="11.6" cy="149.2" r="1.50" fill-opacity="0.41"/>
<circle cx="19.2" cy="139.0" r="1.50" fill-opacity="0.42"/>
<circle cx="27.1" cy="129.0" r="1.50" fill-opacity="0.42"/>
<circle cx="35.4" cy="119.2" r="1.50" fill-opacity="0.42"/>
<circle cx="43.9" cy="109.7" r="1.50" fill-opacity="0.42"/>
<circle cx="52.7" cy="100.5" r="1.50" fill-opacity="0.42"/>
<circle cx="61.9" cy="91.6" r="1.50" fill-opacity="0.42"/>
<circle cx="71.3" cy="83.0" r="1.50" fill-opacity="0.42"/>
<circle cx="81.0" cy="74.6" r="1.50" fill-opacity="0.42"/>
<circle cx="90.9" cy="66.6" r="1.50" fill-opacity="0.42"/>
<circle cx="101.1" cy="58.9" r="1.50" fill-opacity="0.42"/>
<circle cx="111.6" cy="51.6" r="1.50" fill-opacity="0.42"/>
<circle cx="122.2" cy="44.6" r="1.50" fill-opacity="0.42"/>
<circle cx="133.1" cy="37.9" r="1.50" fill-opacity="0.42"/>
<circle cx="144.2" cy="31.6" r="1.50" fill-opacity="0.42"/>
<circle cx="155.5" cy="25.6" r="1.50" fill-opacity="0.37"/>
<circle cx="167.0" cy="20.0" r="1.50" fill-opacity="0.30"/>
<circle cx="178.6" cy="14.8" r="1.50" fill-opacity="0.22"/>
<circle cx="190.4" cy="9.9" r="1.50" fill-opacity="0.14"/>
<circle cx="202.4" cy="5.4" r="1.50" fill-opacity="0.07"/>
<circle cx="-5.0" cy="143.5" r="1.10" fill-opacity="0.25"/>
<circle cx="2.5" cy="133.2" r="1.10" fill-opacity="0.27"/>
<circle cx="10.3" cy="123.1" r="1.10" fill-opacity="0.27"/>
<circle cx="18.3" cy="113.2" r="1.10" fill-opacity="0.27"/>
<circle cx="26.7" cy="103.7" r="1.10" fill-opacity="0.27"/>
<circle cx="35.3" cy="94.3" r="1.10" fill-opacity="0.27"/>
<circle cx="44.3" cy="85.3" r="1.10" fill-opacity="0.27"/>
<circle cx="53.5" cy="76.5" r="1.10" fill-opacity="0.27"/>
<circle cx="62.9" cy="68.0" r="1.10" fill-opacity="0.27"/>
<circle cx="72.6" cy="59.7" r="1.10" fill-opacity="0.27"/>
<circle cx="82.6" cy="51.8" r="1.10" fill-opacity="0.27"/>
<circle cx="92.8" cy="44.2" r="1.10" fill-opacity="0.27"/>
<circle cx="103.2" cy="36.9" r="1.10" fill-opacity="0.27"/>
<circle cx="113.9" cy="30.0" r="1.10" fill-opacity="0.27"/>
<circle cx="124.7" cy="23.3" r="1.10" fill-opacity="0.27"/>
<circle cx="135.8" cy="17.0" r="1.10" fill-opacity="0.27"/>
<circle cx="147.0" cy="11.1" r="1.10" fill-opacity="0.25"/>
<circle cx="158.4" cy="5.4" r="1.10" fill-opacity="0.20"/>
<circle cx="170.0" cy="0.2" r="1.10" fill-opacity="0.15"/>
<circle cx="181.8" cy="-4.7" r="1.10" fill-opacity="0.10"/>
<circle cx="371.9" cy="547.6" r="2.05" fill-opacity="0.08"/>
<circle cx="359.3" cy="549.7" r="2.05" fill-opacity="0.16"/>
<circle cx="346.6" cy="550.9" r="2.05" fill-opacity="0.24"/>
<circle cx="333.8" cy="551.2" r="2.05" fill-opacity="0.33"/>
<circle cx="321.1" cy="550.4" r="2.05" fill-opacity="0.41"/>
<circle cx="308.4" cy="548.8" r="2.05" fill-opacity="0.42"/>
<circle cx="295.9" cy="546.1" r="2.05" fill-opacity="0.42"/>
<circle cx="283.7" cy="542.5" r="2.05" fill-opacity="0.42"/>
<circle cx="271.7" cy="538.1" r="2.05" fill-opacity="0.42"/>
<circle cx="260.1" cy="532.7" r="2.05" fill-opacity="0.42"/>
<circle cx="249.0" cy="526.4" r="2.05" fill-opacity="0.42"/>
<circle cx="238.4" cy="519.4" r="2.05" fill-opacity="0.42"/>
<circle cx="228.3" cy="511.5" r="2.05" fill-opacity="0.42"/>
<circle cx="218.8" cy="502.9" r="2.05" fill-opacity="0.42"/>
<circle cx="210.1" cy="493.6" r="2.05" fill-opacity="0.42"/>
<circle cx="202.0" cy="483.7" r="2.05" fill-opacity="0.42"/>
<circle cx="194.8" cy="473.2" r="2.05" fill-opacity="0.42"/>
<circle cx="188.3" cy="462.2" r="2.05" fill-opacity="0.42"/>
<circle cx="182.7" cy="450.7" r="2.05" fill-opacity="0.42"/>
<circle cx="178.0" cy="438.9" r="2.05" fill-opacity="0.42"/>
<circle cx="380.6" cy="562.5" r="1.91" fill-opacity="0.04"/>
<circle cx="368.0" cy="565.0" r="1.91" fill-opacity="0.11"/>
<circle cx="355.4" cy="566.7" r="1.91" fill-opacity="0.18"/>
<circle cx="342.6" cy="567.6" r="1.91" fill-opacity="0.26"/>
<circle cx="329.8" cy="567.5" r="1.91" fill-opacity="0.33"/>
<circle cx="317.1" cy="566.6" r="1.91" fill-opacity="0.39"/>
<circle cx="304.4" cy="564.8" r="1.91" fill-opacity="0.39"/>
<circle cx="291.9" cy="562.1" r="1.91" fill-opacity="0.39"/>
<circle cx="279.7" cy="558.5" r="1.91" fill-opacity="0.39"/>
<circle cx="267.7" cy="554.2" r="1.91" fill-opacity="0.39"/>
<circle cx="256.0" cy="549.0" r="1.91" fill-opacity="0.39"/>
<circle cx="244.7" cy="543.0" r="1.91" fill-opacity="0.39"/>
<circle cx="233.8" cy="536.2" r="1.91" fill-opacity="0.39"/>
<circle cx="223.5" cy="528.8" r="1.91" fill-opacity="0.39"/>
<circle cx="213.6" cy="520.6" r="1.91" fill-opacity="0.39"/>
<circle cx="204.4" cy="511.7" r="1.91" fill-opacity="0.39"/>
<circle cx="195.8" cy="502.3" r="1.91" fill-opacity="0.39"/>
<circle cx="187.9" cy="492.3" r="1.91" fill-opacity="0.39"/>
<circle cx="180.7" cy="481.7" r="1.91" fill-opacity="0.39"/>
<circle cx="174.2" cy="470.7" r="1.91" fill-opacity="0.39"/>
<circle cx="168.5" cy="459.2" r="1.91" fill-opacity="0.39"/>
<circle cx="163.6" cy="447.4" r="1.91" fill-opacity="0.39"/>
<circle cx="159.5" cy="435.3" r="1.91" fill-opacity="0.39"/>
<circle cx="156.3" cy="423.0" r="1.91" fill-opacity="0.39"/>
<circle cx="154.0" cy="410.4" r="1.91" fill-opacity="0.39"/>
<circle cx="152.5" cy="397.7" r="1.91" fill-opacity="0.37"/>
<circle cx="151.9" cy="384.9" r="1.91" fill-opacity="0.30"/>
<circle cx="152.1" cy="372.2" r="1.91" fill-opacity="0.23"/>
<circle cx="376.8" cy="580.1" r="1.77" fill-opacity="0.08"/>
<circle cx="364.2" cy="582.3" r="1.77" fill-opacity="0.14"/>
<circle cx="351.4" cy="583.6" r="1.77" fill-opacity="0.20"/>
<circle cx="338.7" cy="584.1" r="1.77" fill-opacity="0.26"/>
<circle cx="325.9" cy="583.8" r="1.77" fill-opacity="0.32"/>
<circle cx="313.1" cy="582.7" r="1.77" fill-opacity="0.37"/>
<circle cx="300.5" cy="580.8" r="1.77" fill-opacity="0.37"/>
<circle cx="288.0" cy="578.0" r="1.77" fill-opacity="0.37"/>
<circle cx="275.7" cy="574.5" r="1.77" fill-opacity="0.37"/>
<circle cx="263.6" cy="570.3" r="1.77" fill-opacity="0.37"/>
<circle cx="251.9" cy="565.2" r="1.77" fill-opacity="0.37"/>
<circle cx="240.4" cy="559.5" r="1.77" fill-opacity="0.37"/>
<circle cx="229.4" cy="553.0" r="1.77" fill-opacity="0.37"/>
<circle cx="218.8" cy="545.8" r="1.77" fill-opacity="0.37"/>
<circle cx="208.7" cy="538.0" r="1.77" fill-opacity="0.37"/>
<circle cx="199.1" cy="529.5" r="1.77" fill-opacity="0.37"/>
<circle cx="190.0" cy="520.5" r="1.77" fill-opacity="0.37"/>
<circle cx="181.6" cy="510.9" r="1.77" fill-opacity="0.37"/>
<circle cx="173.8" cy="500.8" r="1.77" fill-opacity="0.37"/>
<circle cx="166.6" cy="490.2" r="1.77" fill-opacity="0.37"/>
<circle cx="160.1" cy="479.2" r="1.77" fill-opacity="0.37"/>
<circle cx="154.3" cy="467.8" r="1.77" fill-opacity="0.37"/>
<circle cx="149.3" cy="456.0" r="1.77" fill-opacity="0.37"/>
<circle cx="145.0" cy="443.9" r="1.77" fill-opacity="0.37"/>
<circle cx="141.5" cy="431.6" r="1.77" fill-opacity="0.37"/>
<circle cx="138.8" cy="419.1" r="1.77" fill-opacity="0.37"/>
<circle cx="136.8" cy="406.5" r="1.77" fill-opacity="0.37"/>
<circle cx="135.7" cy="393.8" r="1.77" fill-opacity="0.32"/>
<circle cx="135.4" cy="381.0" r="1.77" fill-opacity="0.26"/>
<circle cx="135.9" cy="368.2" r="1.77" fill-opacity="0.20"/>
<circle cx="137.2" cy="355.5" r="1.77" fill-opacity="0.14"/>
<circle cx="139.3" cy="342.8" r="1.77" fill-opacity="0.08"/>
<circle cx="385.5" cy="595.1" r="1.63" fill-opacity="0.05"/>
<circle cx="372.9" cy="597.6" r="1.63" fill-opacity="0.10"/>
<circle cx="360.3" cy="599.3" r="1.63" fill-opacity="0.15"/>
<circle cx="347.5" cy="600.3" r="1.63" fill-opacity="0.21"/>
<circle cx="334.7" cy="600.5" r="1.63" fill-opacity="0.26"/>
<circle cx="321.9" cy="600.0" r="1.63" fill-opacity="0.31"/>
<circle cx="309.2" cy="598.8" r="1.63" fill-opacity="0.34"/>
<circle cx="296.5" cy="596.8" r="1.63" fill-opacity="0.34"/>
<circle cx="284.0" cy="594.0" r="1.63" fill-opacity="0.34"/>
<circle cx="271.7" cy="590.5" r="1.63" fill-opacity="0.34"/>
<circle cx="259.6" cy="586.3" r="1.63" fill-opacity="0.34"/>
<circle cx="247.8" cy="581.5" r="1.63" fill-opacity="0.34"/>
<circle cx="236.2" cy="575.9" r="1.63" fill-opacity="0.34"/>
<circle cx="225.1" cy="569.6" r="1.63" fill-opacity="0.34"/>
<circle cx="214.3" cy="562.7" r="1.63" fill-opacity="0.34"/>
<circle cx="203.9" cy="555.2" r="1.63" fill-opacity="0.34"/>
<circle cx="194.0" cy="547.1" r="1.63" fill-opacity="0.34"/>
<circle cx="184.6" cy="538.4" r="1.63" fill-opacity="0.34"/>
<circle cx="175.7" cy="529.2" r="1.63" fill-opacity="0.34"/>
<circle cx="167.4" cy="519.5" r="1.63" fill-opacity="0.34"/>
<circle cx="159.6" cy="509.3" r="1.63" fill-opacity="0.34"/>
<circle cx="152.5" cy="498.7" r="1.63" fill-opacity="0.34"/>
<circle cx="146.0" cy="487.7" r="1.63" fill-opacity="0.34"/>
<circle cx="140.1" cy="476.3" r="1.63" fill-opacity="0.34"/>
<circle cx="135.0" cy="464.6" r="1.63" fill-opacity="0.34"/>
<circle cx="130.5" cy="452.6" r="1.63" fill-opacity="0.34"/>
<circle cx="126.8" cy="440.3" r="1.63" fill-opacity="0.34"/>
<circle cx="123.7" cy="427.9" r="1.63" fill-opacity="0.34"/>
<circle cx="121.4" cy="415.3" r="1.63" fill-opacity="0.34"/>
<circle cx="119.9" cy="402.6" r="1.63" fill-opacity="0.33"/>
<circle cx="119.1" cy="389.8" r="1.63" fill-opacity="0.28"/>
<circle cx="119.0" cy="377.0" r="1.63" fill-opacity="0.23"/>
<circle cx="119.7" cy="364.2" r="1.63" fill-opacity="0.17"/>
<circle cx="121.2" cy="351.5" r="1.63" fill-opacity="0.12"/>
<circle cx="123.4" cy="338.9" r="1.63" fill-opacity="0.07"/>
<circle cx="384.4" cy="612.2" r="1.49" fill-opacity="0.06"/>
<circle cx="371.9" cy="614.4" r="1.49" fill-opacity="0.11"/>
<circle cx="359.3" cy="615.9" r="1.49" fill-opacity="0.15"/>
<circle cx="346.7" cy="616.8" r="1.49" fill-opacity="0.20"/>
<circle cx="334.0" cy="617.0" r="1.49" fill-opacity="0.24"/>
<circle cx="321.3" cy="616.5" r="1.49" fill-opacity="0.28"/>
<circle cx="308.6" cy="615.3" r="1.49" fill-opacity="0.32"/>
<circle cx="296.1" cy="613.4" r="1.49" fill-opacity="0.32"/>
<circle cx="283.6" cy="610.8" r="1.49" fill-opacity="0.32"/>
<circle cx="271.3" cy="607.6" r="1.49" fill-opacity="0.32"/>
<circle cx="259.2" cy="603.7" r="1.49" fill-opacity="0.32"/>
<circle cx="247.4" cy="599.2" r="1.49" fill-opacity="0.32"/>
<circle cx="235.8" cy="594.0" r="1.49" fill-opacity="0.32"/>
<circle cx="224.5" cy="588.2" r="1.49" fill-opacity="0.32"/>
<circle cx="213.5" cy="581.8" r="1.49" fill-opacity="0.32"/>
<circle cx="202.9" cy="574.9" r="1.49" fill-opacity="0.32"/>
<circle cx="192.7" cy="567.3" r="1.49" fill-opacity="0.32"/>
<circle cx="182.9" cy="559.2" r="1.49" fill-opacity="0.32"/>
<circle cx="173.5" cy="550.6" r="1.49" fill-opacity="0.32"/>
<circle cx="164.7" cy="541.5" r="1.49" fill-opacity="0.32"/>
<circle cx="156.3" cy="532.0" r="1.49" fill-opacity="0.32"/>
<circle cx="148.5" cy="522.0" r="1.49" fill-opacity="0.32"/>
<circle cx="141.2" cy="511.6" r="1.49" fill-opacity="0.32"/>
<circle cx="134.5" cy="500.8" r="1.49" fill-opacity="0.32"/>
<circle cx="128.4" cy="489.6" r="1.49" fill-opacity="0.32"/>
<circle cx="122.9" cy="478.2" r="1.49" fill-opacity="0.32"/>
<circle cx="118.0" cy="466.5" r="1.49" fill-opacity="0.32"/>
<circle cx="113.8" cy="454.5" r="1.49" fill-opacity="0.32"/>
<circle cx="110.3" cy="442.3" r="1.49" fill-opacity="0.32"/>
<circle cx="107.3" cy="429.9" r="1.49" fill-opacity="0.32"/>
<circle cx="105.1" cy="417.4" r="1.49" fill-opacity="0.32"/>
<circle cx="103.6" cy="404.8" r="1.49" fill-opacity="0.31"/>
<circle cx="102.7" cy="392.2" r="1.49" fill-opacity="0.26"/>
<circle cx="102.5" cy="379.5" r="1.49" fill-opacity="0.22"/>
<circle cx="103.0" cy="366.8" r="1.49" fill-opacity="0.17"/>
<circle cx="104.2" cy="354.1" r="1.49" fill-opacity="0.13"/>
<circle cx="106.1" cy="341.6" r="1.49" fill-opacity="0.09"/>
<circle cx="108.7" cy="329.1" r="1.49" fill-opacity="0.04"/>
<circle cx="393.1" cy="627.1" r="1.35" fill-opacity="0.04"/>
<circle cx="380.6" cy="629.6" r="1.35" fill-opacity="0.08"/>
<circle cx="292.1" cy="629.4" r="1.35" fill-opacity="0.29"/>
<circle cx="279.7" cy="626.8" r="1.35" fill-opacity="0.29"/>
<circle cx="267.4" cy="623.6" r="1.35" fill-opacity="0.29"/>
<circle cx="255.2" cy="619.8" r="1.35" fill-opacity="0.29"/>
<circle cx="243.3" cy="615.3" r="1.35" fill-opacity="0.29"/>
<circle cx="231.6" cy="610.3" r="1.35" fill-opacity="0.29"/>
<circle cx="220.2" cy="604.6" r="1.35" fill-opacity="0.29"/>
<circle cx="209.1" cy="598.4" r="1.35" fill-opacity="0.29"/>
<circle cx="198.4" cy="591.7" r="1.35" fill-opacity="0.29"/>
<circle cx="188.0" cy="584.4" r="1.35" fill-opacity="0.29"/>
<circle cx="177.9" cy="576.6" r="1.35" fill-opacity="0.29"/>
<circle cx="168.3" cy="568.3" r="1.35" fill-opacity="0.29"/>
<circle cx="159.1" cy="559.5" r="1.35" fill-opacity="0.29"/>
<circle cx="150.4" cy="550.3" r="1.35" fill-opacity="0.29"/>
<circle cx="142.1" cy="540.6" r="1.35" fill-opacity="0.29"/>
<circle cx="134.4" cy="530.5" r="1.35" fill-opacity="0.29"/>
<circle cx="127.1" cy="520.1" r="1.35" fill-opacity="0.29"/>
<circle cx="120.4" cy="509.3" r="1.35" fill-opacity="0.29"/>
<circle cx="114.3" cy="498.1" r="1.35" fill-opacity="0.29"/>
<circle cx="108.7" cy="486.7" r="1.35" fill-opacity="0.29"/>
<circle cx="103.7" cy="475.0" r="1.35" fill-opacity="0.29"/>
<circle cx="99.3" cy="463.1" r="1.35" fill-opacity="0.29"/>
<circle cx="95.6" cy="450.9" r="1.35" fill-opacity="0.29"/>
<circle cx="92.4" cy="438.6" r="1.35" fill-opacity="0.29"/>
<circle cx="89.9" cy="426.1" r="1.35" fill-opacity="0.29"/>
<circle cx="88.0" cy="413.6" r="1.35" fill-opacity="0.29"/>
<circle cx="86.7" cy="400.9" r="1.35" fill-opacity="0.27"/>
<circle cx="86.1" cy="388.2" r="1.35" fill-opacity="0.23"/>
<circle cx="86.1" cy="375.5" r="1.35" fill-opacity="0.19"/>
<circle cx="86.8" cy="362.8" r="1.35" fill-opacity="0.15"/>
<circle cx="88.1" cy="350.2" r="1.35" fill-opacity="0.11"/>
<circle cx="90.1" cy="337.6" r="1.35" fill-opacity="0.07"/>
<circle cx="227.5" cy="626.5" r="1.21" fill-opacity="0.26"/>
<circle cx="216.1" cy="621.0" r="1.21" fill-opacity="0.26"/>
<circle cx="204.8" cy="615.0" r="1.21" fill-opacity="0.26"/>
<circle cx="193.9" cy="608.4" r="1.21" fill-opacity="0.26"/>
<circle cx="183.3" cy="601.3" r="1.21" fill-opacity="0.26"/>
<circle cx="173.1" cy="593.8" r="1.21" fill-opacity="0.26"/>
<circle cx="163.2" cy="585.7" r="1.21" fill-opacity="0.26"/>
<circle cx="153.8" cy="577.3" r="1.21" fill-opacity="0.26"/>
<circle cx="144.7" cy="568.3" r="1.21" fill-opacity="0.26"/>
<circle cx="136.1" cy="559.0" r="1.21" fill-opacity="0.26"/>
<circle cx="127.9" cy="549.2" r="1.21" fill-opacity="0.26"/>
<circle cx="120.2" cy="539.1" r="1.21" fill-opacity="0.26"/>
<circle cx="113.0" cy="528.6" r="1.21" fill-opacity="0.26"/>
<circle cx="106.3" cy="517.7" r="1.21" fill-opacity="0.26"/>
<circle cx="100.1" cy="506.6" r="1.21" fill-opacity="0.26"/>
<circle cx="94.5" cy="495.2" r="1.21" fill-opacity="0.26"/>
<circle cx="89.4" cy="483.5" r="1.21" fill-opacity="0.26"/>
<circle cx="84.9" cy="471.6" r="1.21" fill-opacity="0.26"/>
<circle cx="80.9" cy="459.5" r="1.21" fill-opacity="0.26"/>
<circle cx="77.6" cy="447.3" r="1.21" fill-opacity="0.26"/>
<circle cx="74.8" cy="434.9" r="1.21" fill-opacity="0.26"/>
<circle cx="72.6" cy="422.3" r="1.21" fill-opacity="0.26"/>
<circle cx="71.0" cy="409.7" r="1.21" fill-opacity="0.26"/>
<circle cx="70.0" cy="397.0" r="1.21" fill-opacity="0.23"/>
<circle cx="69.6" cy="384.3" r="1.21" fill-opacity="0.20"/>
<circle cx="69.8" cy="371.6" r="1.21" fill-opacity="0.16"/>
<circle cx="70.6" cy="358.9" r="1.21" fill-opacity="0.13"/>
<circle cx="72.1" cy="346.2" r="1.21" fill-opacity="0.10"/>
<circle cx="74.1" cy="333.6" r="1.21" fill-opacity="0.07"/>
<circle cx="189.6" cy="625.1" r="1.07" fill-opacity="0.24"/>
<circle cx="178.8" cy="618.2" r="1.07" fill-opacity="0.24"/>
<circle cx="168.4" cy="610.9" r="1.07" fill-opacity="0.24"/>
<circle cx="158.3" cy="603.1" r="1.07" fill-opacity="0.24"/>
<circle cx="148.6" cy="594.8" r="1.07" fill-opacity="0.24"/>
<circle cx="139.3" cy="586.2" r="1.07" fill-opacity="0.24"/>
<circle cx="130.3" cy="577.1" r="1.07" fill-opacity="0.24"/>
<circle cx="121.8" cy="567.6" r="1.07" fill-opacity="0.24"/>
<circle cx="113.7" cy="557.8" r="1.07" fill-opacity="0.24"/>
<circle cx="106.1" cy="547.6" r="1.07" fill-opacity="0.24"/>
<circle cx="98.9" cy="537.1" r="1.07" fill-opacity="0.24"/>
<circle cx="92.2" cy="526.2" r="1.07" fill-opacity="0.24"/>
<circle cx="86.0" cy="515.1" r="1.07" fill-opacity="0.24"/>
<circle cx="80.3" cy="503.7" r="1.07" fill-opacity="0.24"/>
<circle cx="75.1" cy="492.1" r="1.07" fill-opacity="0.24"/>
<circle cx="70.5" cy="480.2" r="1.07" fill-opacity="0.24"/>
<circle cx="66.4" cy="468.2" r="1.07" fill-opacity="0.24"/>
<circle cx="62.8" cy="455.9" r="1.07" fill-opacity="0.24"/>
<circle cx="59.8" cy="443.5" r="1.07" fill-opacity="0.24"/>
<circle cx="57.3" cy="431.1" r="1.07" fill-opacity="0.24"/>
<circle cx="55.4" cy="418.5" r="1.07" fill-opacity="0.24"/>
<circle cx="54.1" cy="405.8" r="1.07" fill-opacity="0.22"/>
<circle cx="53.3" cy="393.1" r="1.07" fill-opacity="0.19"/>
<circle cx="53.2" cy="380.3" r="1.07" fill-opacity="0.17"/>
<circle cx="53.5" cy="367.6" r="1.07" fill-opacity="0.14"/>
<circle cx="54.5" cy="354.9" r="1.07" fill-opacity="0.11"/>
<circle cx="56.0" cy="342.3" r="1.07" fill-opacity="0.08"/>
<circle cx="58.1" cy="329.7" r="1.07" fill-opacity="0.06"/>
<circle cx="163.8" cy="627.8" r="0.93" fill-opacity="0.21"/>
<circle cx="153.5" cy="620.3" r="0.93" fill-opacity="0.21"/>
<circle cx="143.6" cy="612.3" r="0.93" fill-opacity="0.21"/>
<circle cx="134.0" cy="603.8" r="0.93" fill-opacity="0.21"/>
<circle cx="124.8" cy="595.0" r="0.93" fill-opacity="0.21"/>
<circle cx="116.0" cy="585.8" r="0.93" fill-opacity="0.21"/>
<circle cx="107.6" cy="576.3" r="0.93" fill-opacity="0.21"/>
<circle cx="99.6" cy="566.4" r="0.93" fill-opacity="0.21"/>
<circle cx="92.0" cy="556.1" r="0.93" fill-opacity="0.21"/>
<circle cx="84.8" cy="545.6" r="0.93" fill-opacity="0.21"/>
<circle cx="78.1" cy="534.7" r="0.93" fill-opacity="0.21"/>
<circle cx="71.9" cy="523.6" r="0.93" fill-opacity="0.21"/>
<circle cx="66.2" cy="512.2" r="0.93" fill-opacity="0.21"/>
<circle cx="60.9" cy="500.6" r="0.93" fill-opacity="0.21"/>
<circle cx="56.1" cy="488.8" r="0.93" fill-opacity="0.21"/>
<circle cx="51.9" cy="476.8" r="0.93" fill-opacity="0.21"/>
<circle cx="48.1" cy="464.6" r="0.93" fill-opacity="0.21"/>
<circle cx="44.9" cy="452.2" r="0.93" fill-opacity="0.21"/>
<circle cx="42.2" cy="439.8" r="0.93" fill-opacity="0.21"/>
<circle cx="40.0" cy="427.2" r="0.93" fill-opacity="0.21"/>
<circle cx="38.4" cy="414.6" r="0.93" fill-opacity="0.21"/>
<circle cx="37.3" cy="401.9" r="0.93" fill-opacity="0.19"/>
<circle cx="36.8" cy="389.1" r="0.93" fill-opacity="0.16"/>
<circle cx="36.8" cy="376.4" r="0.93" fill-opacity="0.14"/>
<circle cx="37.3" cy="363.6" r="0.93" fill-opacity="0.12"/>
<circle cx="38.4" cy="350.9" r="0.93" fill-opacity="0.10"/>
<circle cx="40.0" cy="338.3" r="0.93" fill-opacity="0.07"/>
<circle cx="42.1" cy="325.7" r="0.93" fill-opacity="0.05"/>
<circle cx="138.8" cy="629.5" r="0.79" fill-opacity="0.18"/>
<circle cx="129.0" cy="621.4" r="0.79" fill-opacity="0.18"/>
<circle cx="119.5" cy="612.8" r="0.79" fill-opacity="0.18"/>
<circle cx="110.4" cy="603.8" r="0.79" fill-opacity="0.18"/>
<circle cx="101.7" cy="594.5" r="0.79" fill-opacity="0.18"/>
<circle cx="93.3" cy="584.9" r="0.79" fill-opacity="0.18"/>
<circle cx="85.4" cy="574.9" r="0.79" fill-opacity="0.18"/>
<circle cx="77.9" cy="564.6" r="0.79" fill-opacity="0.18"/>
<circle cx="70.7" cy="554.1" r="0.79" fill-opacity="0.18"/>
<circle cx="64.0" cy="543.2" r="0.79" fill-opacity="0.18"/>
<circle cx="57.8" cy="532.1" r="0.79" fill-opacity="0.18"/>
<circle cx="52.0" cy="520.7" r="0.79" fill-opacity="0.18"/>
<circle cx="46.7" cy="509.1" r="0.79" fill-opacity="0.18"/>
<circle cx="41.8" cy="497.3" r="0.79" fill-opacity="0.18"/>
<circle cx="37.4" cy="485.3" r="0.79" fill-opacity="0.18"/>
<circle cx="33.5" cy="473.2" r="0.79" fill-opacity="0.18"/>
<circle cx="30.1" cy="460.9" r="0.79" fill-opacity="0.18"/>
<circle cx="27.2" cy="448.5" r="0.79" fill-opacity="0.18"/>
<circle cx="24.8" cy="436.0" r="0.79" fill-opacity="0.18"/>
<circle cx="22.9" cy="423.3" r="0.79" fill-opacity="0.18"/>
<circle cx="21.5" cy="410.7" r="0.79" fill-opacity="0.18"/>
<circle cx="20.6" cy="397.9" r="0.79" fill-opacity="0.16"/>
<circle cx="20.3" cy="385.2" r="0.79" fill-opacity="0.14"/>
<circle cx="20.4" cy="372.4" r="0.79" fill-opacity="0.12"/>
<circle cx="21.1" cy="359.7" r="0.79" fill-opacity="0.10"/>
<circle cx="22.2" cy="347.0" r="0.79" fill-opacity="0.08"/>
<circle cx="23.9" cy="334.3" r="0.79" fill-opacity="0.06"/>
<circle cx="26.1" cy="321.8" r="0.79" fill-opacity="0.04"/>
<circle cx="114.4" cy="630.4" r="0.70" fill-opacity="0.16"/>
<circle cx="105.0" cy="621.7" r="0.70" fill-opacity="0.16"/>
<circle cx="96.0" cy="612.6" r="0.70" fill-opacity="0.16"/>
<circle cx="87.4" cy="603.2" r="0.70" fill-opacity="0.16"/>
<circle cx="79.1" cy="593.5" r="0.70" fill-opacity="0.16"/>
<circle cx="71.2" cy="583.5" r="0.70" fill-opacity="0.16"/>
<circle cx="63.7" cy="573.2" r="0.70" fill-opacity="0.16"/>
<circle cx="56.6" cy="562.5" r="0.70" fill-opacity="0.16"/>
<circle cx="49.9" cy="551.7" r="0.70" fill-opacity="0.16"/>
<circle cx="43.7" cy="540.6" r="0.70" fill-opacity="0.16"/>
<circle cx="37.8" cy="529.2" r="0.70" fill-opacity="0.16"/>
<circle cx="32.4" cy="517.6" r="0.70" fill-opacity="0.16"/>
<circle cx="27.5" cy="505.9" r="0.70" fill-opacity="0.16"/>
<circle cx="23.0" cy="493.9" r="0.70" fill-opacity="0.16"/>
<circle cx="18.9" cy="481.8" r="0.70" fill-opacity="0.16"/>
<circle cx="15.4" cy="469.6" r="0.70" fill-opacity="0.16"/>
<circle cx="12.3" cy="457.2" r="0.70" fill-opacity="0.16"/>
<circle cx="9.7" cy="444.7" r="0.70" fill-opacity="0.16"/>
<circle cx="7.5" cy="432.1" r="0.70" fill-opacity="0.16"/>
<circle cx="5.9" cy="419.4" r="0.70" fill-opacity="0.16"/>
<circle cx="4.7" cy="406.7" r="0.70" fill-opacity="0.14"/>
<circle cx="4.0" cy="394.0" r="0.70" fill-opacity="0.13"/>
<circle cx="3.8" cy="381.2" r="0.70" fill-opacity="0.11"/>
<circle cx="4.1" cy="368.5" r="0.70" fill-opacity="0.10"/>
<circle cx="4.9" cy="355.7" r="0.70" fill-opacity="0.08"/>
<circle cx="6.1" cy="343.0" r="0.70" fill-opacity="0.07"/>
<circle cx="7.9" cy="330.4" r="0.70" fill-opacity="0.05"/></g>
</g>
<g id="donut">
<path d="M344.10,146.90 A192.1,192.1 0 0 1 513.30,429.95 L428.66,384.45 A96.0,96.0 0 0 0 344.10,243.00 Z" fill="#3c8d65"/>
<path d="M513.30,429.95 A192.1,192.1 0 0 1 203.65,470.06 L273.91,404.50 A96.0,96.0 0 0 0 428.66,384.45 Z" fill="#e8e000"/>
<path d="M203.65,470.06 A192.1,192.1 0 0 1 153.34,361.64 L248.77,350.31 A96.0,96.0 0 0 0 273.91,404.50 Z" fill="#5257b8"/>
<path d="M153.34,361.64 A192.1,192.1 0 0 1 174.39,249.00 L259.29,294.03 A96.0,96.0 0 0 0 248.77,350.31 Z" fill="#a86aa8"/>
<path d="M174.39,249.00 A192.1,192.1 0 0 1 234.14,181.49 L289.15,260.28 A96.0,96.0 0 0 0 259.29,294.03 Z" fill="#8ec5b7"/>
<path d="M234.14,181.49 A192.1,192.1 0 0 1 273.05,160.52 L308.59,249.81 A96.0,96.0 0 0 0 289.15,260.28 Z" fill="url(#gLg)"/>
<path d="M273.05,160.52 A192.1,192.1 0 0 1 293.06,153.80 L318.59,246.45 A96.0,96.0 0 0 0 308.59,249.81 Z" fill="url(#gNv)"/>
<path d="M293.06,153.80 A192.1,192.1 0 0 1 312.14,149.58 L328.13,244.34 A96.0,96.0 0 0 0 318.59,246.45 Z" fill="url(#gBr)"/>
<path d="M312.14,149.58 A192.1,192.1 0 0 1 330.11,147.41 L337.11,243.25 A96.0,96.0 0 0 0 328.13,244.34 Z" fill="url(#gDg)"/>
<path d="M330.11,147.41 A192.1,192.1 0 0 1 344.10,146.90 L344.10,243.00 A96.0,96.0 0 0 0 337.11,243.25 Z" fill="url(#gSb)"/>
</g>
<circle cx="344.1" cy="339.0" r="96.0" fill="#242a33"/>
<g class="ld">
<line x1="512.8" y1="246.0" x2="546.0" y2="232.0"/>
<line x1="396.9" y1="523.4" x2="409.5" y2="555.8"/>
<line x1="168.9" y1="417.3" x2="134.0" y2="437.5"/>
<line x1="155.0" y1="304.7" x2="121.4" y2="298.4"/>
<line x1="199.0" y1="212.4" x2="170.9" y2="192.0"/>
<line x1="250.9" y1="170.7" x2="225.3" y2="142.9"/>
<line x1="281.6" y1="156.7" x2="261.9" y2="121.4"/>
<line x1="302.0" y1="150.9" x2="293.1" y2="110.4"/>
<line x1="322.0" y1="147.5" x2="331.8" y2="103.1"/>
<line x1="338.7" y1="146.1" x2="366.6" y2="101.9"/>
</g>
<g class="lbl">
<text x="553.31" y="232.82" textLength="62.08" lengthAdjust="spacingAndGlyphs">33%</text>
<text x="389.61" y="593.60" textLength="64.68" lengthAdjust="spacingAndGlyphs">30%</text>
<text x="82.04" y="465.60" textLength="60.88" lengthAdjust="spacingAndGlyphs">10%</text>
<text x="53.59" y="306.60" textLength="60.22" lengthAdjust="spacingAndGlyphs">10%</text>
<text x="118.93" y="189.54" textLength="43.25" lengthAdjust="spacingAndGlyphs">7%</text>
<text x="176.20" y="140.54" textLength="43.89" lengthAdjust="spacingAndGlyphs">4%</text>
<text x="218.01" y="116.54" textLength="43.86" lengthAdjust="spacingAndGlyphs">2%</text>
<text x="263.91" y="98.76" textLength="44.19" lengthAdjust="spacingAndGlyphs">2%</text>
<text x="314.60" y="93.54" textLength="39.40" lengthAdjust="spacingAndGlyphs">1%</text>
<text x="363.63" y="95.10" textLength="38.36" lengthAdjust="spacingAndGlyphs">1%</text>
</g>
<g id="legend-dots">
<circle cx="737" cy="165.20" r="6.1" fill="#3c8d65"/>
<circle cx="737" cy="209.45" r="6.1" fill="#e8e000"/>
<circle cx="737" cy="253.70" r="6.1" fill="#5257b8"/>
<circle cx="737" cy="297.95" r="6.1" fill="#a86aa8"/>
<circle cx="737" cy="342.20" r="6.1" fill="#8ec5b7"/>
<circle cx="737" cy="386.45" r="6.1" fill="url(#ld5)"/>
<circle cx="737" cy="430.70" r="6.1" fill="url(#ld6)"/>
<circle cx="737" cy="474.95" r="6.1" fill="url(#ld7)"/>
<circle cx="737" cy="519.20" r="6.1" fill="url(#ld8)"/>
</g>
<path d="M997,611.2 A142,142 0 0 0 1107.7,500.5 L1107.7,611.2 Z" fill="#3c8d65"/>
</svg>
<h1>Top 10 Outbound CVE<br>by Traffic Volume</h1>
<div class="li" style="top:157px"><span class="ln" style="letter-spacing:0.030px">CVE-2023-29324 -&nbsp; Windows MSHTML Platform</span><span class="ln" style="letter-spacing:-0.038px">Elevation of Privilege</span></div>
<div class="li" style="top:201px"><span class="ln" style="letter-spacing:0.023px">CVE-2021-44228 - Apache-Log4j Remote</span><span class="ln" style="letter-spacing:0.077px">Code Execution</span></div>
<div class="li" style="top:246px"><span class="ln" style="letter-spacing:-0.117px">CVE-2021-26897 - Windows DNS Remote</span><span class="ln" style="letter-spacing:0.077px">Code Execution</span></div>
<div class="li" style="top:290px"><span class="ln" style="letter-spacing:-0.107px">CVE-2018-19629 - Denial of Service vulnerability</span><span class="ln" style="letter-spacing:-0.105px">in the ImageNow Server</span></div>
<div class="li" style="top:334px"><span class="ln" style="letter-spacing:-0.141px">CVE-2021-41773 - Apache HTTP Server</span><span class="ln" style="letter-spacing:-0.031px">Path Traversal</span></div>
<div class="li" style="top:379px"><span class="ln" style="letter-spacing:-0.087px">CVE-2021-26857 - Unsafe deserialization issue has</span><span class="ln" style="letter-spacing:-0.046px">been identified in Exchange</span></div>
<div class="li" style="top:423px"><span class="ln" style="letter-spacing:-0.085px">CVE-2021-21872 - Lantronix PremierWave 2050</span><span class="ln" style="letter-spacing:0.030px">Remote Code Execution</span></div>
<div class="li" style="top:467px"><span class="ln" style="letter-spacing:-0.076px">CVE-2022-21907 - IIS Unauthenticated Remote</span><span class="ln" style="letter-spacing:0.077px">Code Execution</span></div>
<div class="li" style="top:511px"><span class="ln" style="letter-spacing:0.016px">CVE-2023-22527 - Atlassian Confluence</span><span class="ln" style="letter-spacing:-0.093px">Data Center and Confluence Server</span><span class="ln" style="letter-spacing:0.030px">Remote Code Execution</span></div>
</body>
</html>
